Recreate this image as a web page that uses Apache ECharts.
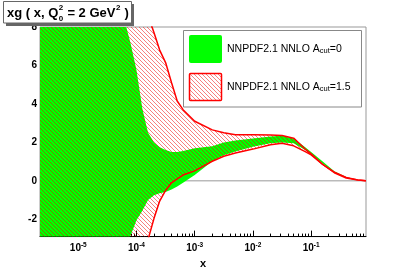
<!DOCTYPE html>
<html><head><meta charset="utf-8">
<script src="https://cdn.jsdelivr.net/npm/echarts@6/dist/echarts.min.js"></script>
<style>html,body{margin:0;padding:0;background:#fff}#c{width:407px;height:274px}</style>
</head><body><div id="c"></div>
<script>
// x grid (Bjorken x)
const xs = [2e-6, 1e-5, 3.16e-5, 6.3e-5, 7.9e-5, 1e-4, 1.26e-4, 1.58e-4, 2e-4, 2.5e-4, 3.16e-4, 4e-4, 5e-4, 6.3e-4,
            1e-3, 2e-3, 3.16e-3, 5e-3, 1e-2, 2e-2, 3.16e-2, 5e-2, 7.9e-2, 0.1, 0.158, 0.25, 0.4, 0.63, 0.87];
// NNPDF2.1 NNLO Acut=0 band
const greenUp = [20, 20, 20, 8.3, 7.15, 5.75, 3.75, 2.5, 2.0, 1.75, 1.6, 1.5, 1.5, 1.55,
                 1.7, 1.8, 2.0, 2.1, 2.2, 2.3, 2.35, 2.2, 1.75, 1.5, 1.0, 0.5, 0.2, 0.05, 0.0];
const greenLo = [-10, -10, -8, -3.3, -2.85, -2.05, -1.55, -1.0, -0.75, -0.65, -0.58, -0.45, -0.3, -0.1,
                 0.3, 1.02, 1.33, 1.52, 1.77, 1.95, 2.0, 1.95, 1.6, 1.38, 0.9, 0.45, 0.18, 0.05, 0.0];
// NNPDF2.1 NNLO Acut=1.5 band
const redUp = [22, 20, 15.5, 12.6, 11.6, 10.6, 9.6, 8.6, 7.7, 6.8, 6.15, 5.1, 4.15, 3.7,
               3.1, 2.65, 2.5, 2.4, 2.4, 2.38, 2.36, 2.22, 1.65, 1.4, 0.85, 0.45, 0.18, 0.05, 0.0];
const redLo = [-10, -10, -8, -6, -5.5, -5, -4, -3.05, -1.95, -1.05, -0.5, -0.1, 0.1, 0.3,
               0.52, 1.02, 1.28, 1.45, 1.65, 1.88, 1.95, 1.82, 1.52, 1.35, 0.85, 0.42, 0.15, 0.04, 0.0];
// axis ticks
const xMajor = [1e-5, 1e-4, 1e-3, 1e-2, 1e-1];
const xMinorMult = [2, 3, 4, 5, 6, 7, 8, 9];
const yTicks = [-2, 0, 2, 4, 6, 8];
const xRange = [2.2e-6, 0.875];
const yRange = [-2.9, 8];

const L = Math.log10;
const xMinor = [];
[1e-6, 1e-5, 1e-4, 1e-3, 1e-2, 1e-1].forEach(d => xMinorMult.forEach(m => {
  const v = d * m; if (v > xRange[0] && v < xRange[1]) xMinor.push(L(v));
}));

// hatch pattern
const pc = document.createElement('canvas'); pc.width = 4; pc.height = 4;
const pctx = pc.getContext('2d');
pctx.fillStyle = 'rgba(240,0,0,0.5)';
for (let i = 0; i < 4; i++) pctx.fillRect(i, i, 1, 1);
const hatch = { image: pc, repeat: 'repeat' };

const pairs = v => xs.map((x, i) => [L(x), v[i]]);

function bandSeries(up, lo, fill, z) {
  return {
    type: 'custom', silent: true, z: z, animation: false,
    data: [[L(xs[0]), 0]],
    renderItem: (params, api) => {
      const pts = [];
      xs.forEach((x, i) => pts.push(api.coord([L(x), up[i]])));
      for (let i = xs.length - 1; i >= 0; i--) pts.push(api.coord([L(xs[i]), lo[i]]));
      const cs = params.coordSys;
      return {
        type: 'polygon', shape: { points: pts }, style: { fill: fill },
        clipPath: { type: 'rect', shape: { x: cs.x, y: cs.y, width: cs.width, height: cs.height } }
      };
    }
  };
}

const FONT = 'Liberation Sans, Arial, sans-serif';
const mc = document.createElement('canvas').getContext('2d');
function tw(t, f) { mc.font = f; return mc.measureText(t).width; }
const tFont = 'bold 13px ' + FONT;
const t1 = 'xg ( x, Q', t2 = ' = 2 GeV', t3 = ' )';
const tx0 = 7;
const tx1 = tx0 + tw(t1, tFont) + 0.5;
const tx2 = tx1 + 5;
const tx3 = tx2 + tw(t2, tFont) + 0.5;
const tx4 = tx3 + 5;

const chart = echarts.init(document.getElementById('c'), null, { renderer: 'canvas' });
const lineCommon = { type: 'line', symbol: 'none', showSymbol: false, silent: true, animation: false };
chart.setOption({
  animation: false,
  grid: { left: 40, right: 41, top: 27, bottom: 29, show: true, borderColor: '#999', borderWidth: 1, backgroundColor: '#fff' },
  xAxis: [{
    type: 'value', min: L(xRange[0]), max: L(xRange[1]),
    axisLine: { show: true, onZero: false, lineStyle: { color: '#000', width: 1 } },
    axisTick: { show: true, inside: true, length: 6, customValues: xMajor.map(L), lineStyle: { color: '#000' } },
    axisLabel: {
      show: true, customValues: xMajor.map(L), margin: 5,
      formatter: v => '{b|10}{s|' + Math.round(v) + '}',
      rich: { b: { fontFamily: FONT, fontWeight: 'bold', fontSize: 10, color: '#000' },
              s: { fontFamily: FONT, fontWeight: 'bold', fontSize: 6.5, color: '#000', padding: [0, 0, 6, 0] } }
    },
    splitLine: { show: false },
    name: 'x', nameLocation: 'middle', nameGap: 16,
    nameTextStyle: { fontFamily: FONT, fontWeight: 'bold', fontSize: 11, color: '#000' }
  }, {
    type: 'value', min: L(xRange[0]), max: L(xRange[1]), position: 'bottom',
    axisLine: { show: false, onZero: false },
    axisTick: { show: true, inside: true, length: 3, customValues: xMinor, lineStyle: { color: '#000' } },
    axisLabel: { show: false }, splitLine: { show: false }
  }],
  yAxis: {
    type: 'value', min: yRange[0], max: yRange[1],
    axisLine: { show: false, onZero: false },
    axisTick: { show: true, inside: true, length: 6, customValues: yTicks, lineStyle: { color: '#000' } },
    axisLabel: { customValues: yTicks, margin: 3, fontFamily: FONT, fontWeight: 'bold', fontSize: 10, color: '#000' },
    splitLine: { show: false }
  },
  series: [
    Object.assign({}, lineCommon, { data: [[L(xRange[0]), 0], [L(xRange[1]), 0]], lineStyle: { color: '#999', width: 1 }, z: 1 }),
    bandSeries(greenUp, greenLo, '#00ff00', 2),
    bandSeries(redUp, redLo, hatch, 3),
    Object.assign({}, lineCommon, { data: pairs(redUp), lineStyle: { color: '#ff0000', width: 1.5 }, z: 4 }),
    Object.assign({}, lineCommon, { data: pairs(redLo), lineStyle: { color: '#ff0000', width: 1.5 }, z: 4 })
  ],
  graphic: [
    { type: 'rect', shape: { x: 6, y: 4, width: 128, height: 22 }, style: { fill: '#666' }, z: 10 },
    { type: 'rect', shape: { x: 3.5, y: 1.5, width: 128, height: 21.5 }, style: { fill: '#fff', stroke: '#666', lineWidth: 1 }, z: 11 },
    { type: 'text', x: tx0, y: 13, style: { text: t1, font: tFont, fill: '#000', verticalAlign: 'middle' }, z: 12 },
    { type: 'text', x: tx1, y: 8, style: { text: '2', font: 'bold 8px ' + FONT, fill: '#000', verticalAlign: 'middle' }, z: 12 },
    { type: 'text', x: tx1, y: 19, style: { text: '0', font: 'bold 8px ' + FONT, fill: '#000', verticalAlign: 'middle' }, z: 12 },
    { type: 'text', x: tx2, y: 13, style: { text: t2, font: tFont, fill: '#000', verticalAlign: 'middle' }, z: 12 },
    { type: 'text', x: tx3, y: 8, style: { text: '2', font: 'bold 8px ' + FONT, fill: '#000', verticalAlign: 'middle' }, z: 12 },
    { type: 'text', x: tx4, y: 13, style: { text: t3, font: tFont, fill: '#000', verticalAlign: 'middle' }, z: 12 },

    { type: 'rect', shape: { x: 183.5, y: 30.5, width: 178, height: 76.5 }, style: { fill: '#fff', stroke: '#888', lineWidth: 1 }, z: 10 },
    { type: 'rect', shape: { x: 189, y: 35, width: 33, height: 28, r: 2 }, style: { fill: '#00ff00' }, z: 11 },
    { type: 'rect', shape: { x: 189.5, y: 73.5, width: 32, height: 27, r: 1 }, style: { fill: hatch, stroke: '#ff0000', lineWidth: 1.5 }, z: 11 },
    { type: 'text', x: 227, y: 49, z: 12, style: {
        text: '{a|NNPDF2.1 NNLO A}{s|cut}{a|=0}', verticalAlign: 'middle',
        rich: { a: { fontFamily: FONT, fontSize: 10.5, fill: '#000', lineHeight: 12 },
                s: { fontFamily: FONT, fontSize: 7.5, fill: '#000', lineHeight: 8, verticalAlign: 'bottom' } } } },
    { type: 'text', x: 227, y: 87, z: 12, style: {
        text: '{a|NNPDF2.1 NNLO A}{s|cut}{a|=1.5}', verticalAlign: 'middle',
        rich: { a: { fontFamily: FONT, fontSize: 10.5, fill: '#000', lineHeight: 12 },
                s: { fontFamily: FONT, fontSize: 7.5, fill: '#000', lineHeight: 8, verticalAlign: 'bottom' } } } }
  ]
});
</script></body></html>
